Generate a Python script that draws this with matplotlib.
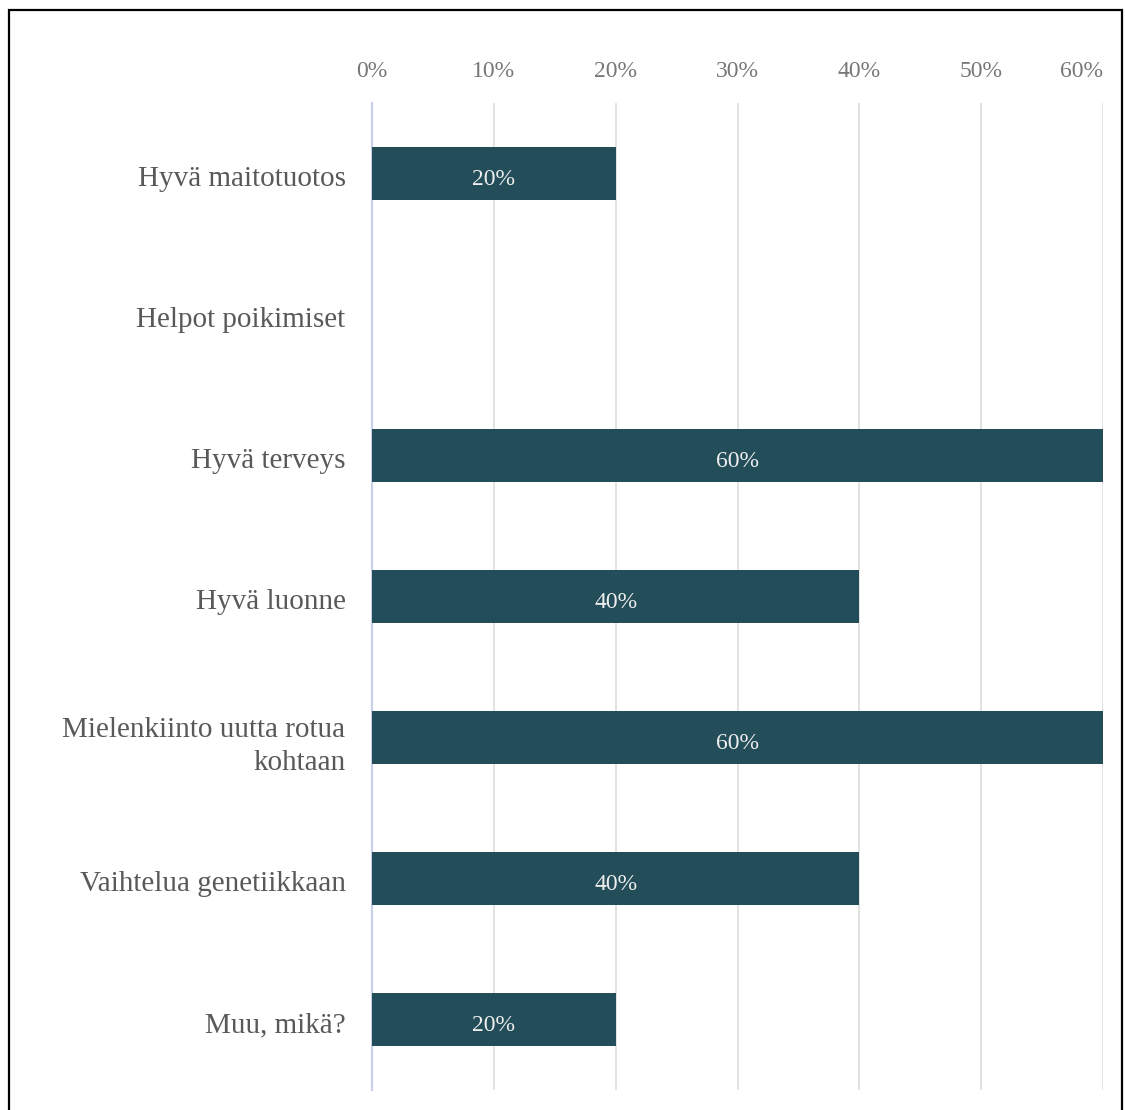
import matplotlib.pyplot as plt
from matplotlib.patches import Rectangle

# Data
categories = ["Hyvä maitotuotos", "Helpot poikimiset", "Hyvä terveys", "Hyvä luonne",
              "Mielenkiinto uutta rotua\nkohtaan", "Vaihtelua genetiikkaan", "Muu, mikä?"]
values = [20, 0, 60, 40, 60, 40, 20]
ticks = [0, 10, 20, 30, 40, 50, 60]
tick_labels = ["0%", "10%", "20%", "30%", "40%", "50%", "60%"]

plt.rcParams['font.family'] = ['Liberation Serif', 'DejaVu Serif']

fig = plt.figure(figsize=(11.25, 11.10), dpi=100)
ax = fig.add_axes([372/1125, 1 - 1090/1110, (1103 - 372)/1125, (1090 - 103)/1110])

bar_color = "#234d59"
y = list(range(len(categories)))
ax.barh(y, values, height=0.375, color=bar_color, zorder=3)

# value labels inside the bars
for yi, v in zip(y, values):
    if v > 0:
        ax.text(v / 2, yi + 0.04, f"{v}%", ha="center", va="center", color="#eeeeee",
                fontsize=17, zorder=4)

ax.set_xlim(0, 60)
ax.set_ylim(len(categories) - 0.5, -0.5)

# category labels (nudged slightly down like the original)
ax.set_yticks([yi + 0.02 for yi in y])
ax.set_yticklabels(categories, fontsize=21, color="#595959", linespacing=1.35)
ax.tick_params(axis="y", length=0, pad=19)

ax.xaxis.tick_top()
ax.set_xticks(ticks)
ax.set_xticklabels(tick_labels, fontsize=17, color="#777777")
ax.tick_params(axis="x", length=0, pad=15)
ax.get_xticklabels()[-1].set_horizontalalignment("right")

ax.grid(axis="x", color="#dddddd", linewidth=1.2, zorder=0)
for s in ["top", "right", "bottom"]:
    ax.spines[s].set_visible(False)
ax.spines["left"].set_color("#c8d0ea")
ax.spines["left"].set_linewidth(1.5)

# outer border (open at the bottom)
fig.patches.append(Rectangle((8.5/1125, -0.05), (1122 - 8.5)/1125, 1.05 - 10/1110,
                             transform=fig.transFigure, fill=False,
                             edgecolor="black", linewidth=1.6))

fig.savefig("out.png", dpi=100)
